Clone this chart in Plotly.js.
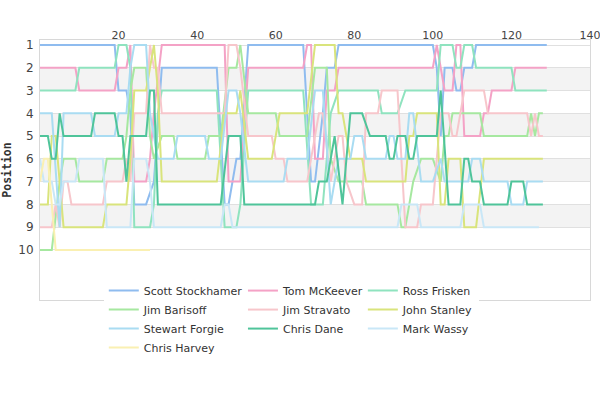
<!DOCTYPE html>
<html>
<head>
<meta charset="utf-8">
<script src="https://cdn.plot.ly/plotly-3.0.1.min.js"></script>
<style>
  html, body { margin: 0; padding: 0; background: #ffffff; }
  #chart { width: 600px; height: 400px; }
</style>
</head>
<body>
<div id="chart"></div>
<script>
  // lap / position pairs, read at the laps where a driver changes place
  const stockhamer = [[0,1],[19,1],[20,3],[22,3],[23,4],[24,8],[27,8],[29,7],[31,2],[45,2],[47,8],[48,8],[50,6],[51,6],[53,1],[67,1],[69,7],[70,7],[72,4],[73,2],[75,2],[76,1],[100,1],[101,2],[102,5],[103,2],[105,2],[106,3],[107,3],[108,2],[110,2],[111,1],[129,1]];
  const mckeever = [[0,2],[9,2],[10,3],[19,3],[20,2],[22,2],[23,1],[24,7],[27,7],[28,6],[29,4],[31,1],[47,1],[48,7],[51,7],[53,2],[67,2],[68,1],[69,1],[70,6],[72,6],[73,3],[75,3],[76,2],[100,2],[101,1],[102,2],[103,3],[105,3],[106,1],[107,1],[108,5],[112,5],[113,4],[114,4],[115,3],[120,3],[121,2],[129,2]];
  const frisken = [[0,3],[9,3],[10,2],[19,2],[20,1],[22,1],[23,2],[24,9],[28,9],[29,8],[30,4],[31,3],[45,3],[47,9],[50,9],[51,8],[53,3],[67,3],[69,8],[72,8],[74,4],[76,3],[86,3],[87,4],[91,4],[93,3],[101,3],[102,1],[105,1],[106,2],[107,2],[108,1],[110,1],[111,2],[120,2],[121,3],[129,3]];
  const barisoff = [[0,10],[3,10],[5,7],[6,6],[9,6],[10,7],[16,7],[17,6],[21,6],[22,5],[23,3],[24,2],[27,2],[28,5],[29,6],[31,5],[34,5],[35,6],[42,6],[43,5],[46,5],[48,2],[50,2],[51,1],[53,4],[60,4],[61,5],[68,5],[70,2],[73,2],[74,6],[76,7],[82,7],[83,8],[91,8],[92,9],[93,9],[95,7],[97,6],[100,6],[102,7],[103,5],[104,5],[105,4],[112,4],[113,5],[124,5],[125,4],[126,5],[127,4],[128,4]];
  const stravato = [[0,9],[3,9],[4,8],[5,9],[6,7],[7,7],[8,8],[16,8],[17,7],[21,7],[22,6],[23,7],[24,4],[27,4],[28,1],[29,2],[30,2],[31,4],[47,4],[48,1],[50,1],[51,2],[53,5],[59,5],[60,6],[62,6],[63,7],[68,7],[70,5],[71,4],[72,4],[74,7],[76,5],[77,5],[78,7],[80,8],[82,8],[83,4],[86,4],[87,3],[91,3],[92,6],[93,9],[96,9],[97,8],[100,8],[102,4],[104,4],[105,5],[106,5],[108,3],[113,3],[114,4],[124,4],[125,5],[126,4],[127,5],[128,5]];
  const stanley = [[0,8],[2,8],[3,5],[4,5],[6,9],[16,9],[17,8],[22,8],[23,6],[24,3],[27,3],[28,2],[29,1],[30,3],[31,7],[45,7],[47,4],[50,4],[51,3],[53,6],[59,6],[61,4],[68,4],[70,1],[75,1],[76,4],[77,4],[79,6],[82,6],[83,7],[93,7],[94,5],[95,5],[96,4],[101,4],[102,8],[103,8],[104,6],[107,6],[108,9],[111,9],[113,6],[128,6]];
  const forgie = [[0,4],[3,4],[5,9],[6,4],[13,4],[14,5],[19,5],[20,4],[22,4],[23,2],[24,1],[27,1],[28,4],[29,5],[30,6],[34,6],[35,5],[42,5],[43,6],[46,6],[48,3],[50,3],[51,4],[53,7],[62,7],[63,6],[68,6],[70,3],[72,3],[74,8],[76,6],[79,6],[80,5],[82,5],[83,6],[88,6],[89,5],[90,5],[91,6],[93,6],[94,4],[95,4],[97,7],[100,7],[102,6],[103,7],[109,7],[110,6],[112,6],[113,7],[119,7],[120,8],[123,8],[124,7],[128,7]];
  const dane = [[0,5],[2,5],[3,6],[4,6],[5,4],[6,5],[13,5],[14,4],[19,4],[20,5],[21,5],[22,7],[23,5],[27,5],[28,3],[29,3],[30,8],[46,8],[48,5],[51,5],[52,8],[70,8],[71,7],[73,7],[75,5],[77,8],[79,4],[82,4],[84,5],[88,5],[89,6],[90,6],[91,5],[93,5],[94,6],[95,6],[96,5],[101,5],[102,3],[104,8],[107,8],[108,6],[109,6],[110,7],[112,7],[113,8],[119,8],[120,7],[123,7],[124,8],[128,8]];
  const wassy = [[0,6],[1,7],[3,7],[4,8],[5,8],[6,7],[9,7],[10,6],[16,6],[17,9],[23,9],[24,6],[27,6],[28,7],[29,9],[46,9],[47,8],[48,8],[49,9],[91,9],[92,8],[96,8],[97,9],[107,9],[108,8],[112,8],[113,9],[127,9]];
  const harvey = [[0,7],[1,6],[2,6],[4,10],[28,10]];

  const drivers = ['Scott Stockhamer', 'Tom McKeever', 'Ross Frisken', 'Jim Barisoff', 'Jim Stravato',
                   'John Stanley', 'Stewart Forgie', 'Chris Dane', 'Mark Wassy', 'Chris Harvey'];
  const series = [stockhamer, mckeever, frisken, barisoff, stravato, stanley, forgie, dane, wassy, harvey];
  const positions = [1, 2, 3, 4, 5, 6, 7, 8, 9, 10];
  const xTicks = [20, 40, 60, 80, 100, 120, 140];

  const COLORS = ['#8fbcef', '#f4a2c6', '#8fe3bf', '#a6e8a0', '#f7c6cb',
                  '#d9e47c', '#a9dcf2', '#4fc49a', '#c9e7f7', '#faf0b2'];
  const LEGENDS = ['legend', 'legend2', 'legend3'];

  const traces = series.map((points, i) => ({
    x: points.map(p => p[0]),
    y: points.map(p => p[1]),
    name: drivers[i],
    mode: 'lines',
    line: { color: COLORS[i], width: 2 },
    legend: LEGENDS[i % 3],
    hoverinfo: 'name+y'
  }));

  // alternating row bands
  const shapes = [2, 4, 6, 8].map(p => ({
    type: 'rect',
    layer: 'below',
    xref: 'paper', x0: 0, x1: 1,
    yref: 'y', y0: p, y1: p + 1,
    fillcolor: '#f3f3f3',
    line: { width: 0 }
  }));

  const legendBase = {
    xanchor: 'left',
    yanchor: 'top',
    y: 0.092,
    bgcolor: '#ffffff',
    borderwidth: 0,
    font: { family: 'DejaVu Sans, sans-serif', size: 11, color: '#333333' }
  };

  const layout = {
    width: 600,
    height: 400,
    margin: { l: 40, r: 10, t: 40, b: 100 },
    paper_bgcolor: '#ffffff',
    plot_bgcolor: '#ffffff',
    font: { family: 'DejaVu Sans, sans-serif', size: 11, color: '#444444' },
    showlegend: true,
    xaxis: {
      range: [0, 140],
      side: 'top',
      tickvals: xTicks,
      showgrid: false,
      zeroline: false,
      showline: true,
      mirror: true,
      linecolor: '#d8d8d8',
      ticks: '',
      ticklabeloverflow: 'allow',
      ticklabelstandoff: -4,
      tickfont: { size: 11, color: '#444444' }
    },
    yaxis: {
      range: [12.2, 0.78],
      tickvals: positions,
      showgrid: true,
      gridcolor: '#e0e0e0',
      zeroline: false,
      showline: true,
      mirror: true,
      linecolor: '#d8d8d8',
      ticks: 'outside',
      ticklen: 3,
      tickcolor: 'rgba(0,0,0,0)',
      tickfont: { size: 12, color: '#444444' },
      title: {
        text: 'Position',
        standoff: 4,
        font: { family: 'DejaVu Sans Mono, monospace', size: 11.5, color: '#333333', weight: 'bold' }
      }
    },
    shapes: shapes,
    legend: Object.assign({}, legendBase, { x: 0.116 }),
    legend2: Object.assign({}, legendBase, { x: 0.369 }),
    legend3: Object.assign({}, legendBase, { x: 0.587 })
  };

  Plotly.newPlot('chart', traces, layout, { displayModeBar: false, staticPlot: true });
</script>
</body>
</html>
